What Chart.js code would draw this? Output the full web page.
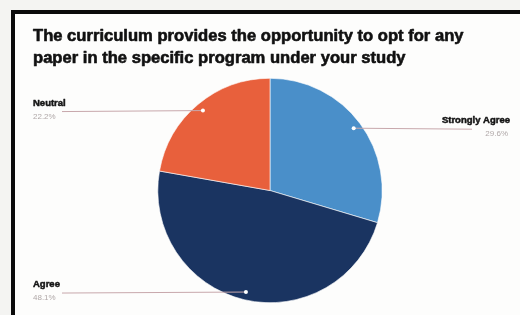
<!DOCTYPE html>
<html>
<head>
<meta charset="utf-8">
<script src="https://cdn.jsdelivr.net/npm/chart.js@4/dist/chart.umd.min.js"></script>
<style>
  html, body { margin: 0; padding: 0; background: #f4f4f2; }
  #wrap { position: relative; width: 520px; height: 315px; }
  canvas { display: block; }
</style>
</head>
<body>
<div id="wrap"><canvas id="c" width="520" height="315"></canvas></div>
<script>
const titleLines = ["The curriculum provides the opportunity to opt for any", "paper in the specific program under your study"];
const categories = ["Strongly Agree", "Agree", "Neutral"];
const percentages = [29.6, 48.1, 22.2];
const sliceColors = ["#4a8fc9", "#1a3461", "#e8603c"];

const framePlugin = {
  id: 'frame',
  beforeDraw(chart) {
    const ctx = chart.ctx;
    ctx.save();
    ctx.fillStyle = '#f4f4f2';
    ctx.fillRect(0, 0, 520, 315);
    ctx.fillStyle = '#fdfdfc';
    ctx.fillRect(14, 13, 506, 302);
    ctx.fillStyle = '#0a0a0a';
    ctx.fillRect(11, 10, 509, 4);
    ctx.fillRect(11, 10, 4, 305);
    ctx.restore();
  },
  afterDraw(chart) {
    const ctx = chart.ctx;
    ctx.save();
    // title
    ctx.fillStyle = '#111';
    ctx.strokeStyle = '#111';
    ctx.lineWidth = 0.6;
    ctx.lineJoin = 'round';
    ctx.font = 'bold 16.6px "Liberation Sans", Arial, sans-serif';
    ctx.textBaseline = 'alphabetic';
    ctx.textAlign = 'left';
    titleLines.forEach((t, k) => {
      ctx.fillText(t, 33, 41 + k * 22);
      ctx.strokeText(t, 33, 41 + k * 22);
    });

    // labels with leader lines
    const meta = chart.getDatasetMeta(0);
    meta.data.forEach((arc, i) => {
      const mid = (arc.startAngle + arc.endAngle) / 2;
      const r = arc.outerRadius * 0.93;
      const px = arc.x + Math.cos(mid) * r;
      const py = arc.y + Math.sin(mid) * r;
      const right = Math.cos(mid) > 0;
      let tx, lineEnd;
      if (right) { tx = 510; lineEnd = 472; } else { tx = 33; lineEnd = 62; }
      const ly = py + 1;
      ctx.strokeStyle = '#c8a8ac';
      ctx.lineWidth = 1;
      ctx.beginPath();
      ctx.moveTo(px, py);
      ctx.lineTo(lineEnd, ly);
      ctx.stroke();
      ctx.fillStyle = '#ffffff';
      ctx.beginPath();
      ctx.arc(px, py, 2, 0, Math.PI * 2);
      ctx.fill();
      ctx.textAlign = right ? 'right' : 'left';
      ctx.fillStyle = '#151515';
      ctx.strokeStyle = '#151515';
      ctx.lineWidth = 0.5;
      ctx.font = 'bold 9.5px "Liberation Sans", Arial, sans-serif';
      ctx.fillText(categories[i], tx, ly - 6);
      ctx.strokeText(categories[i], tx, ly - 6);
      ctx.fillStyle = '#b0a8a8';
      ctx.font = '8px "Liberation Sans", Arial, sans-serif';
      ctx.fillText(percentages[i].toFixed(1) + '%', right ? tx - 2 : tx, ly + 7);
    });
    ctx.restore();
  }
};

new Chart(document.getElementById('c'), {
  type: 'pie',
  data: {
    labels: categories,
    datasets: [{
      data: percentages,
      backgroundColor: sliceColors,
      borderColor: '#ffffff',
      borderWidth: 0.6
    }]
  },
  options: {
    responsive: false,
    animation: false,
    layout: { padding: { left: 157, right: 137, top: 78, bottom: 12 } },
    plugins: {
      legend: { display: false },
      title: { display: false },
      tooltip: { enabled: false }
    }
  },
  plugins: [framePlugin]
});
</script>
</body>
</html>
